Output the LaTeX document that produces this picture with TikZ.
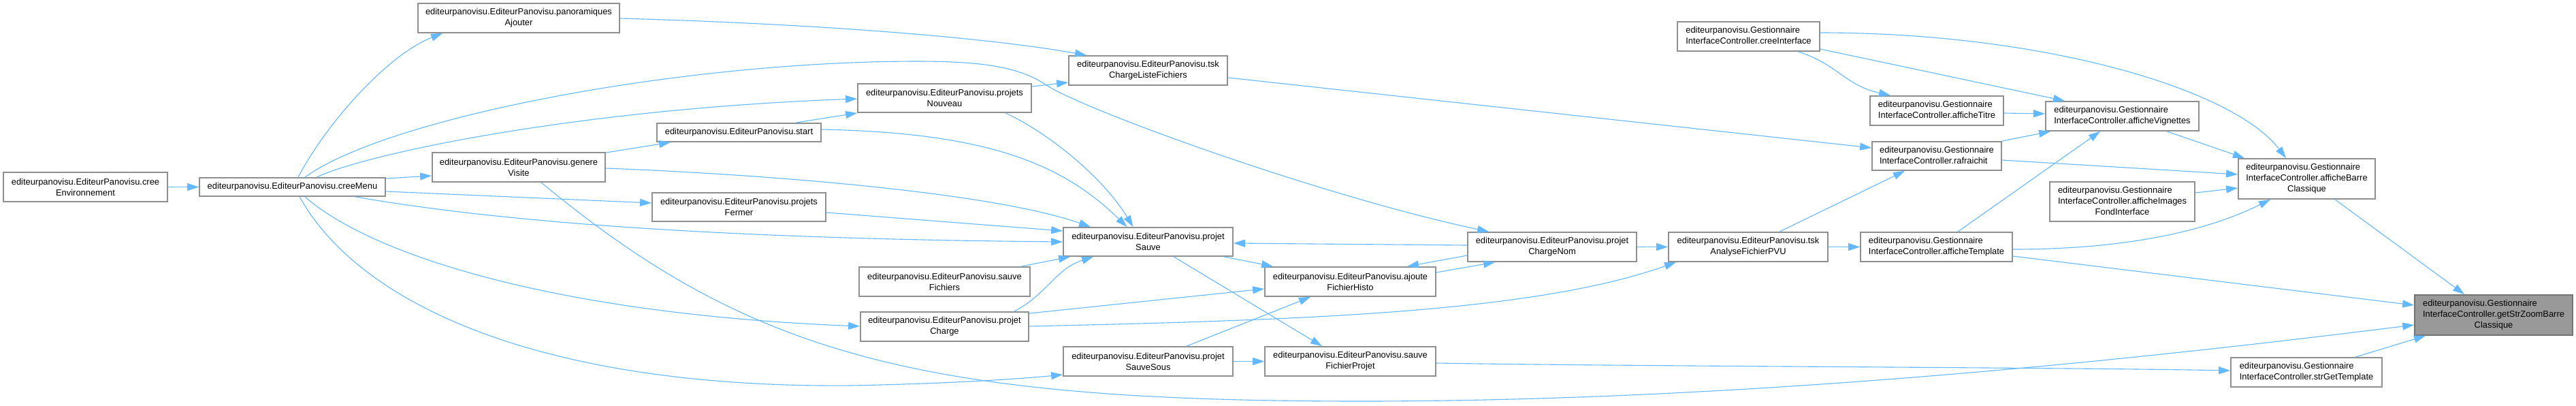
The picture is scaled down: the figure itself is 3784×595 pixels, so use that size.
\documentclass[tikz,border=0pt]{standalone}
\usepackage{fontspec}
\setmainfont{Liberation Sans}
\usetikzlibrary{arrows.meta,calc}
\definecolor{edgeblue}{HTML}{63B8FF}
\definecolor{boxgray}{HTML}{8F8F8F}
\definecolor{hlgray}{HTML}{999999}
\newcommand\gtwo[2]{\begin{tabular}{@{}l@{}}#1\\#2\end{tabular}}
\newcommand\gthree[3]{\begin{tabular}{@{}l@{}}#1\\#2\\\multicolumn{1}{@{}c@{}}{#3}\end{tabular}}
\begin{document}
\begin{tikzpicture}[x=1pt,y=-1pt,
 box/.style={draw=boxgray,fill=white,line width=1.8pt,inner sep=0pt,align=center,font=\fontsize{12.9}{16}\selectfont},
 hl/.style={box,fill=hlgray,draw=gray!90!black},
 edge/.style={draw=edgeblue,line width=1.1pt,-{Triangle[length=17pt,width=11pt]}}]
\fill[white] (0,0) rectangle (3784,595);
\useasboundingbox (0,0) rectangle (3784,595);

\node[box,minimum width=241pt,minimum height=43pt] (creeEnv) at (125.5,274.5) {editeurpanovisu.EditeurPanovisu.cree\\Environnement};
\node[box,minimum width=273pt,minimum height=27pt] (creeMenu) at (429.5,274.5) {editeurpanovisu.EditeurPanovisu.creeMenu};
\node[box,minimum width=296pt,minimum height=43pt] (panAj) at (762,26.5) {editeurpanovisu.EditeurPanovisu.panoramiques\\Ajouter};
\node[box,minimum width=254pt,minimum height=43pt] (genVis) at (762,245.5) {editeurpanovisu.EditeurPanovisu.genere\\Visite};
\node[box,minimum width=241pt,minimum height=27pt] (start) at (1085.5,194.5) {editeurpanovisu.EditeurPanovisu.start};
\node[box,minimum width=255pt,minimum height=42pt] (pFermer) at (1085.5,304) {editeurpanovisu.EditeurPanovisu.projets\\Fermer};
\node[box,minimum width=255pt,minimum height=42pt] (pNouveau) at (1387.5,144) {editeurpanovisu.EditeurPanovisu.projets\\Nouveau};
\node[box,minimum width=251pt,minimum height=43pt] (sauveF) at (1387.5,413.5) {editeurpanovisu.EditeurPanovisu.sauve\\Fichiers};
\node[box,minimum width=247pt,minimum height=43pt] (pCharge) at (1387.5,479.5) {editeurpanovisu.EditeurPanovisu.projet\\Charge};
\node[box,minimum width=233pt,minimum height=43pt] (tskCLF) at (1686.5,103.5) {editeurpanovisu.EditeurPanovisu.tsk\\ChargeListeFichiers};
\node[box,minimum width=249pt,minimum height=42pt] (pSauve) at (1686.5,355) {editeurpanovisu.EditeurPanovisu.projet\\Sauve};
\node[box,minimum width=249pt,minimum height=43pt] (pSauveSous) at (1686.5,530.5) {editeurpanovisu.EditeurPanovisu.projet\\SauveSous};
\node[box,minimum width=251pt,minimum height=43pt] (ajouteFH) at (1983.5,413.5) {editeurpanovisu.EditeurPanovisu.ajoute\\FichierHisto};
\node[box,minimum width=251pt,minimum height=43pt] (sauveFP) at (1983.5,530.5) {editeurpanovisu.EditeurPanovisu.sauve\\FichierProjet};
\node[box,minimum width=248pt,minimum height=43pt] (pChargeNom) at (2280,362.5) {editeurpanovisu.EditeurPanovisu.projet\\ChargeNom};
\node[box,minimum width=209pt,minimum height=43pt] (creeInt) at (2568.5,53.5) {\gtwo{editeurpanovisu.Gestionnaire}{InterfaceController.creeInterface}};
\node[box,minimum width=234pt,minimum height=43pt] (tskAFP) at (2568,362.5) {editeurpanovisu.EditeurPanovisu.tsk\\AnalyseFichierPVU};
\node[box,minimum width=196pt,minimum height=43pt] (afTitre) at (2845,162.5) {\gtwo{editeurpanovisu.Gestionnaire}{InterfaceController.afficheTitre}};
\node[box,minimum width=190pt,minimum height=42pt] (rafr) at (2845,229) {\gtwo{editeurpanovisu.Gestionnaire}{InterfaceController.rafraichit}};
\node[box,minimum width=223pt,minimum height=43pt] (afTemplate) at (2844.5,362.5) {\gtwo{editeurpanovisu.Gestionnaire}{InterfaceController.afficheTemplate}};
\node[box,minimum width=225pt,minimum height=43pt] (afVign) at (3117.5,170.5) {\gtwo{editeurpanovisu.Gestionnaire}{InterfaceController.afficheVignettes}};
\node[box,minimum width=213pt,minimum height=58pt] (afImg) at (3117.5,296) {\gthree{editeurpanovisu.Gestionnaire}{InterfaceController.afficheImages}{FondInterface}};
\node[box,minimum width=201pt,minimum height=59pt] (afBarre) at (3388.5,262.5) {\gthree{editeurpanovisu.Gestionnaire}{InterfaceController.afficheBarre}{Classique}};
\node[box,minimum width=222pt,minimum height=43pt] (strGet) at (3388,546.5) {\gtwo{editeurpanovisu.Gestionnaire}{InterfaceController.strGetTemplate}};
\node[hl,minimum width=232pt,minimum height=59pt] (getStr) at (3663,462.5) {\gthree{editeurpanovisu.Gestionnaire}{InterfaceController.getStrZoomBarre}{Classique}};

% creeEnvironnement / creeMenu
\draw[edge] (creeEnv.east) -- (creeMenu.west);
\draw[edge] ($(creeMenu.north)+(8.5,0)$) .. controls (480,180) and (570,80) .. ($(panAj.south)+(-112,0)$);
\draw[edge] ($(creeMenu.north)+(18.5,0)$) .. controls (568,173) and (998,90) .. (1348,90) .. controls (1450,90) and (1500,100) .. (1537,125) .. controls (1600,165) and (1950,290) .. ($(pChargeNom.north)+(-93,0)$);
\draw[edge] ($(creeMenu.north)+(35.5,0)$) .. controls (540,225) and (850,160) .. ($(pNouveau.west)+(0,1)$);
\draw[edge] ($(creeMenu.east)+(0,-12.5)$) -- ($(genVis.west)+(0,12.5)$);
\draw[edge] ($(creeMenu.east)+(0,6.5)$) -- ($(pFermer.west)+(0,-6)$);
\draw[edge] ($(creeMenu.south)+(92.5,0)$) .. controls (700,320) and (1000,350) .. (pSauve.west);
\draw[edge] ($(creeMenu.south)+(18.5,0)$) .. controls (540,370) and (800,460) .. ($(pCharge.west)+(0,-0.5)$);
\draw[edge] ($(creeMenu.south)+(10.5,0)$) .. controls (530,450) and (800,570) .. (1250,566) .. controls (1400,563) and (1500,556) .. ($(pSauveSous.west)+(0,19.5)$);

% genereVisite
\draw[edge] ($(genVis.north east)+(0,1)$) -- ($(start.south)+(-100.5,0)$);
\draw[edge] ($(genVis.east)+(0,1.5)$) .. controls (1100,255) and (1450,280) .. ($(pSauve.north)+(-84.5,0)$);
\draw[edge] ($(genVis.south)+(33,0)$) .. controls (1100,520) and (1350,589) .. (2000,589) .. controls (2600,589) and (3200,520) .. ($(getStr.west)+(0,14.5)$);

% start
\draw[edge] ($(start.north)+(83.5,0)$) -- (pNouveau.south west);
\draw[edge] ($(start.east)+(0,-4.5)$) .. controls (1450,195) and (1560,240) .. ($(pSauve.north)+(-31,0)$);

% projetsNouveau
\draw[edge] ($(pNouveau.east)+(0,-17)$) -- ($(tskCLF.west)+(0,17.5)$);
\draw[edge] ($(pNouveau.south)+(89.5,0)$) .. controls (1540,195) and (1620,260) .. ($(pSauve.north)+(-22,0)$);

% panoramiquesAjouter
\draw[edge] ($(panAj.east)+(0,0.5)$) .. controls (1200,35) and (1450,55) .. ($(tskCLF.north)+(-90.5,0)$);

% projetsFermer, sauveFichiers, projetCharge
\draw[edge] ($(pFermer.east)+(0,8)$) -- ($(pSauve.west)+(0,-16)$);
\draw[edge] ($(sauveF.north)+(112.5,0)$) -- ($(pSauve.south)+(-114.5,0)$);
\draw[edge] ($(pCharge.north)+(102.5,0)$) .. controls (1540,430) and (1550,395) .. ($(pSauve.south)+(-80.5,0)$);
\draw[edge] ($(pCharge.east)+(0,-19.5)$) -- ($(ajouteFH.west)+(0,10.5)$);
\draw[edge] ($(pCharge.east)+(0,-0.5)$) .. controls (1900,470) and (2250,460) .. ($(tskAFP.south)+(-106,0)$);

% projetSauve
\draw[edge] ($(pSauve.south)+(111.5,0)$) -- ($(ajouteFH.north)+(-113.5,0)$);
\draw[edge] ($(pSauve.south)+(37.5,0)$) -- ($(sauveFP.north)+(-41.5,0)$);

% projetChargeNom, ajouteFichierHisto
\draw[edge] ($(pChargeNom.west)+(0,-2.5)$) -- ($(pSauve.east)+(0,2)$);
\draw[edge] ($(pChargeNom.west)+(0,12.5)$) -- ($(ajouteFH.north)+(83.5,0)$);
\draw[edge] (pChargeNom.east) -- (tskAFP.west);
\draw[edge] ($(ajouteFH.east)+(0,-13.5)$) -- ($(pChargeNom.south)+(-84,0)$);

% projetSauveSous, sauveFichierProjet
\draw[edge] ($(pSauveSous.north)+(56.5,0)$) -- ($(ajouteFH.south)+(-58.5,0)$);
\draw[edge] (pSauveSous.east) -- (sauveFP.west);
\draw[edge] ($(sauveFP.east)+(0,2.5)$) .. controls (2400,538) and (3000,539) .. ($(strGet.west)+(0,-2.5)$);

% tsk nodes
\draw[edge] ($(tskCLF.east)+(0,10.5)$) -- ($(rafr.west)+(0,-12)$);
\draw[edge] ($(tskAFP.north)+(46,0)$) -- ($(rafr.south)+(-47,0)$);
\draw[edge] (tskAFP.east) -- (afTemplate.west);

% creeInterface
\draw[edge] ($(creeInt.east)+(0,-5.5)$) .. controls (3000,48) and (3280,130) .. ($(afBarre.north)+(-30.5,0)$);
\draw[edge] ($(creeInt.east)+(0,18.5)$) -- ($(afVign.north)+(-84.5,0)$);
\draw[edge] ($(creeInt.south)+(73.5,0)$) .. controls (2700,95) and (2710,125) .. ($(afTitre.north)+(-68,0)$);

% Gestionnaire column
\draw[edge] ($(afTitre.east)+(0,3.5)$) -- ($(afVign.west)+(0,-3.5)$);
\draw[edge] (rafr.north east) -- ($(afVign.south)+(-105.5,0)$);
\draw[edge] ($(rafr.east)+(0,6)$) -- ($(afBarre.west)+(0,-6.5)$);
\draw[edge] ($(afTemplate.north)+(31.5,0)$) -- ($(afVign.south)+(-32.5,0)$);
\draw[edge] ($(afTemplate.east)+(0,3.5)$) .. controls (3150,366) and (3260,330) .. ($(afBarre.south)+(-53.5,0)$);
\draw[edge] ($(afTemplate.east)+(0,13.5)$) -- ($(getStr.west)+(0,-14.5)$);
\draw[edge] ($(afVign.south)+(65.5,0)$) -- ($(afBarre.north)+(-91.5,0)$);
\draw[edge] ($(afImg.east)+(0,-13)$) -- ($(afBarre.west)+(0,13.5)$);
\draw[edge] ($(afBarre.south)+(41.5,0)$) -- ($(getStr.north)+(-43,0)$);
\draw[edge] ($(strGet.north)+(72,0)$) -- ($(getStr.south)+(-100,0)$);
\end{tikzpicture}
\end{document}
